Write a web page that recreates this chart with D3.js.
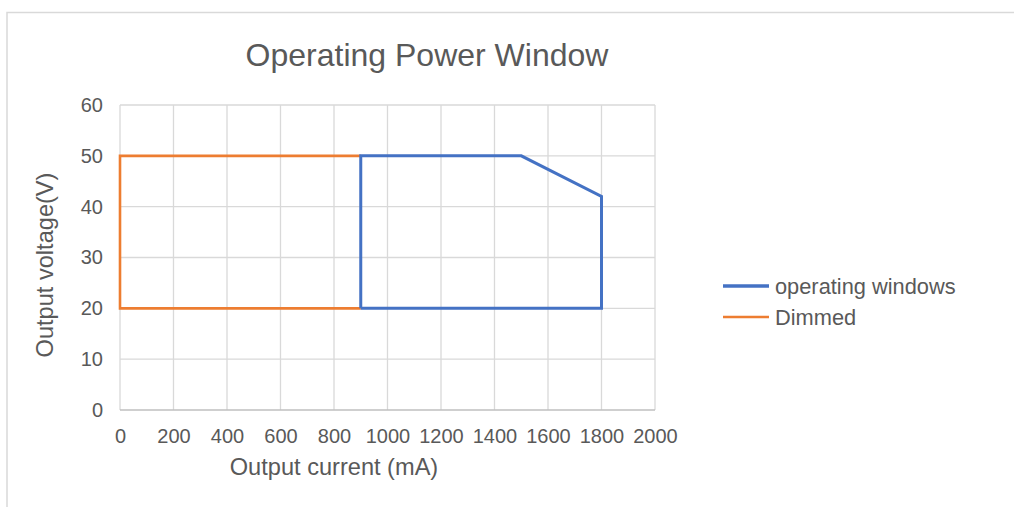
<!DOCTYPE html>
<html>
<head>
<meta charset="utf-8">
<script src="https://cdn.jsdelivr.net/npm/d3@7"></script>
<style>
  body { margin: 0; background: #fff; }
  text { font-family: "Liberation Sans", Arial, sans-serif; fill: #595959; }
</style>
</head>
<body>
<div id="vis-holder"></div>
<script>
// series (mA, V)
const opCurrent = [900, 900, 1500, 1800, 1800, 900];
const opVoltage = [20, 50, 50, 42, 20, 20];
const dimCurrent = [900, 0, 0, 900];
const dimVoltage = [50, 50, 20, 20];
const xTicks = [0, 200, 400, 600, 800, 1000, 1200, 1400, 1600, 1800, 2000];
const yTicks = [0, 10, 20, 30, 40, 50, 60];
const seriesNames = ["operating windows", "Dimmed"];
const seriesColors = ["#4472C4", "#ED7D31"];

const width = 1014, height = 507;
const margin = { top: 105, right: 359, bottom: 97, left: 120 };

const svg = d3.select("#vis-holder")
  .append("svg")
  .attr("width", width)
  .attr("height", height);

// outer frame
svg.append("path")
  .attr("d", "M7,507 V12.5 H1014")
  .attr("fill", "none")
  .attr("stroke", "#d9d9d9")
  .attr("stroke-width", 1.5);

const x = d3.scaleLinear()
  .domain([0, 2000])
  .range([margin.left, width - margin.right]);

const y = d3.scaleLinear()
  .domain([0, 60])
  .range([height - margin.bottom, margin.top]);

// grid
svg.append("g")
  .selectAll("line")
  .data(xTicks)
  .enter()
  .append("line")
  .attr("x1", d => x(d)).attr("x2", d => x(d))
  .attr("y1", y(60)).attr("y2", y(0))
  .attr("stroke", "#d9d9d9")
  .attr("stroke-width", 1.3);

svg.append("g")
  .selectAll("line")
  .data(yTicks)
  .enter()
  .append("line")
  .attr("x1", x(0)).attr("x2", x(2000))
  .attr("y1", d => y(d)).attr("y2", d => y(d))
  .attr("stroke", d => d === 0 ? "#bfbfbf" : "#d9d9d9")
  .attr("stroke-width", 1.3);

// axes (labels only)
svg.append("g")
  .attr("transform", `translate(0, ${y(0)})`)
  .call(d3.axisBottom(x).tickValues(xTicks).tickSize(0).tickPadding(19).tickFormat(d3.format("d")))
  .call(g => g.select(".domain").remove())
  .selectAll("text")
  .attr("font-size", "20px")
  .attr("fill", "#595959");

svg.append("g")
  .attr("transform", `translate(${x(0)}, 0)`)
  .call(d3.axisLeft(y).tickValues(yTicks).tickSize(0).tickPadding(17))
  .call(g => g.select(".domain").remove())
  .selectAll("text")
  .attr("font-size", "20px")
  .attr("fill", "#595959");

// lines
const line = d3.line()
  .x(d => x(d[0]))
  .y(d => y(d[1]));

const dimPts = dimCurrent.map((c, i) => [c, dimVoltage[i]]);
const opPts = opCurrent.map((c, i) => [c, opVoltage[i]]);

svg.append("path")
  .datum(dimPts)
  .attr("d", line)
  .attr("fill", "none")
  .attr("stroke", seriesColors[1])
  .attr("stroke-width", 2.6);

svg.append("path")
  .datum(opPts)
  .attr("d", line)
  .attr("fill", "none")
  .attr("stroke", seriesColors[0])
  .attr("stroke-width", 3)
  .attr("stroke-linejoin", "miter");

// title
svg.append("text")
  .attr("x", 427)
  .attr("y", 66)
  .attr("text-anchor", "middle")
  .attr("font-size", "32px")
  .text("Operating Power Window");

// axis titles
svg.append("text")
  .attr("x", 334)
  .attr("y", 475)
  .attr("text-anchor", "middle")
  .attr("font-size", "23.6px")
  .text("Output current (mA)");

svg.append("text")
  .attr("transform", `translate(53, 265) rotate(-90)`)
  .attr("text-anchor", "middle")
  .attr("font-size", "23.6px")
  .text("Output voltage(V)");

// legend
const legend = svg.append("g")
  .selectAll("g")
  .data(seriesNames)
  .enter()
  .append("g")
  .attr("transform", (d, i) => `translate(723, ${286 + i * 31})`);

legend.append("line")
  .attr("x1", 0).attr("x2", 46)
  .attr("stroke", (d, i) => seriesColors[i])
  .attr("stroke-width", (d, i) => i === 0 ? 3.5 : 2.6);

legend.append("text")
  .attr("x", 52)
  .attr("y", 8)
  .attr("font-size", "21.8px")
  .text(d => d);
</script>
</body>
</html>
